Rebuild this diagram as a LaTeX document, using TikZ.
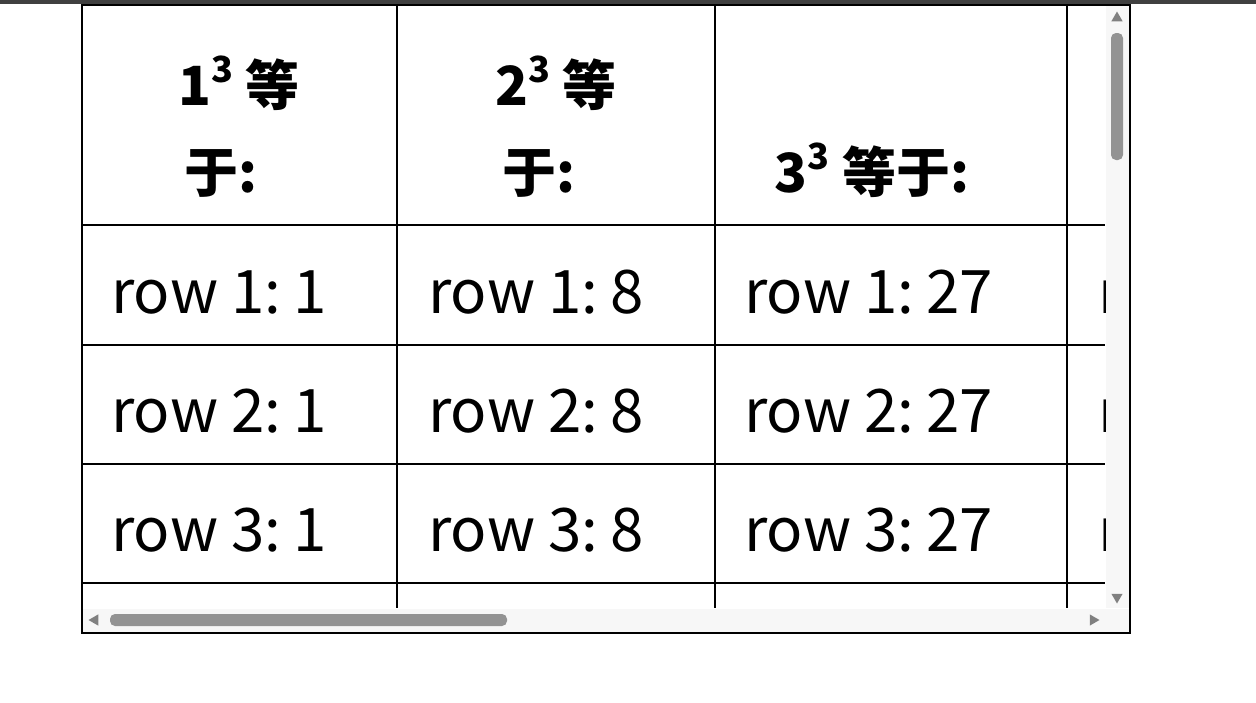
\documentclass[tikz,border=0pt]{standalone}
\usetikzlibrary{shapes.geometric}
\usepackage{fontspec}
\setmainfont{Noto Sans CJK SC}
\newcommand{\cubesup}{\raisebox{0.42em}{\fontsize{36}{36}\selectfont 3}}
\begin{document}
\begin{tikzpicture}[x=1pt,y=-1pt,
  body/.style={anchor=base west,inner sep=0pt,font=\fontsize{60}{62}\selectfont},
  head/.style={anchor=base,inner sep=0pt,font=\fontsize{54}{56}\selectfont\bfseries},
  grid/.style={line width=1.6pt,black},
  tri/.style={fill=gray,regular polygon,regular polygon sides=3,minimum size=13pt,inner sep=0pt},
  thumb/.style={fill=gray!85!white,rounded corners=5pt}]
\useasboundingbox (0,0) rectangle (1256,702);
\fill[white] (0,0) rectangle (1256,702);
\fill[black!75] (0,0) rectangle (1256,4);
\begin{scope}
\clip (82,5) rectangle (1105,608);
\foreach \x in {397,715,1067} \draw[grid] (\x,5) -- (\x,608);
\foreach \y in {225,345,464,583} \draw[grid] (82,\y) -- (1105,\y);
\foreach \r/\yy in {1/313,2/432,3/551}{
  \node[body] (a\r) at (111,\yy) {row \r:\kern-6pt{} 1};
  \node[body] (b\r) at (428,\yy) {row \r:\kern-6pt{} 8};
  \node[body] (c\r) at (744,\yy) {row \r:\kern-6pt{} 27};
  \node[body] (d\r) at (1098,\yy) {row \r:\kern-6pt{} 64};
}
\end{scope}
\node[head] (h1a) at (239,105) {1\cubesup{} 等};
\node[head] (h1b) at (221,192) {于:};
\node[head] (h2a) at (556,105) {2\cubesup{} 等};
\node[head] (h2b) at (539,192) {于:};
\node[head] (h3) at (872,192) {3\cubesup{} 等于:};
% scrollbars
\fill[white!97!black] (1106,5) rectangle (1129,608);
\fill[white!97!black] (82,609) rectangle (1129,632);
\node[tri] (up) at (1117,18) {};
\node[tri,shape border rotate=180] (dn) at (1117,597) {};
\node[tri,shape border rotate=90] (lf) at (95,620) {};
\node[tri,shape border rotate=-90] (rt) at (1093,620) {};
\fill[thumb] (1111,33) rectangle (1123,160);
\fill[thumb] (110,614) rectangle (507,626);
\draw[line width=2pt] (82,5) rectangle (1130,633);
\end{tikzpicture}
\end{document}
